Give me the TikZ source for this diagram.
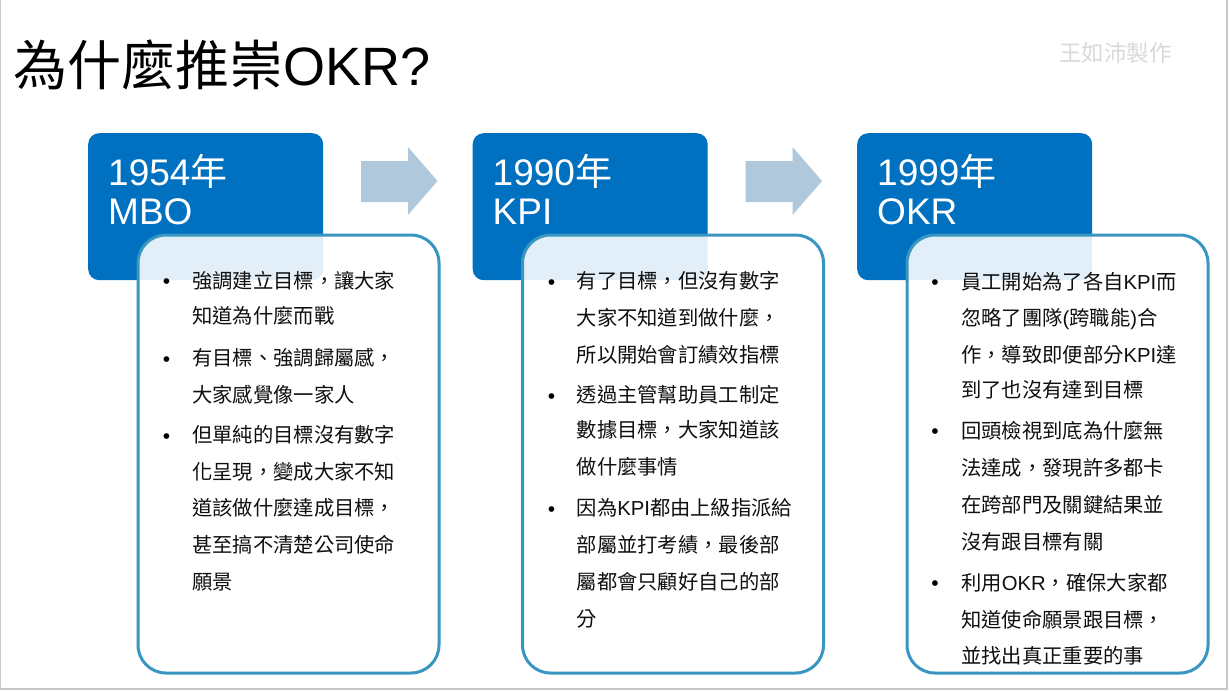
\documentclass[tikz,border=0pt]{standalone}
\usepackage{fontspec}
\setmainfont{Noto Sans CJK TC}
\newfontfamily\lat{Liberation Sans}
\definecolor{hdblue}{RGB}{0,112,192}
\definecolor{frameblue}{RGB}{57,150,192}
\definecolor{arrowblue}{RGB}{175,200,219}
\definecolor{wmgray}{RGB}{217,217,217}
\definecolor{slideline}{RGB}{200,200,200}
\definecolor{bodyc}{RGB}{15,15,15}
\begin{document}
\begin{tikzpicture}[x=1pt,y=-1pt,
  hdbox/.style={fill=hdblue, rounded corners=11pt, minimum width=235pt, minimum height=147pt, inner sep=0pt, anchor=north west},
  framebox/.style={draw=frameblue, line width=3pt, fill=white, fill opacity=0.89, rounded corners=28pt, minimum width=301pt, minimum height=438pt, inner sep=0pt, anchor=north west},
  blockarrow/.style={fill=arrowblue},
  hdtext/.style={anchor=base west, inner sep=0pt, text=white, font=\fontsize{37}{40}\selectfont},
  body/.style={anchor=west, inner sep=0pt, text height=17.86pt, text depth=2.44pt, text=bodyc, font=\fontsize{20.3}{24}\selectfont},
  bul/.style={anchor=base, inner sep=0pt, text=black, font=\lat\fontsize{21}{24}\selectfont},
]
\useasboundingbox (0,0) rectangle (1230,691);
\fill[white] (0,0) rectangle (1230,691);
\draw[slideline, line width=1.2pt] (0.6,0) -- (0.6,689) -- (1227,689) -- (1227,0);

% title and watermark
\node[anchor=base west, inner sep=0pt, font=\fontsize{54}{60}\selectfont] (title) at (13,85) {為什麼推崇{\lat OKR?}};
\node[anchor=base west, inner sep=0pt, text=wmgray, font=\fontsize{22.5}{26}\selectfont] (mark) at (1059,61.5) {王如沛製作};

% header boxes
\node[hdbox] (h1) at (88,133) {};
\node[hdbox] (h2) at (472.5,133) {};
\node[hdbox] (h3) at (857,133) {};

% block arrows
\fill[blockarrow] (361,161) -- (408,161) -- (408,147) -- (437.5,181) -- (408,215) -- (408,202) -- (361,202) -- cycle;
\fill[blockarrow] (745.5,161) -- (792.5,161) -- (792.5,147) -- (822,181) -- (792.5,215) -- (792.5,202) -- (745.5,202) -- cycle;

% header texts
\node[hdtext] (y1) at (108,185) {{\lat 1954}年};
\node[hdtext] (n1) at (108,224) {\lat MBO};
\node[hdtext] (y2) at (492.5,185) {{\lat 1990}年};
\node[hdtext] (n2) at (492.5,224) {\lat KPI};
\node[hdtext] (y3) at (877,185) {{\lat 1999}年};
\node[hdtext] (n3) at (877,224) {\lat OKR};

% content frames
\node[framebox] (f1) at (136.5,233.5) {};
\node[framebox] (f2) at (521,233.5) {};
\node[framebox] (f3) at (905.5,233.5) {};

% box 1 text
\foreach \yy/\t [count=\i] in {
  280.5/{強調建立目標，讓大家},
  316/{知道為什麼而戰},
  358/{有目標、強調歸屬感，},
  395/{大家感覺像一家人},
  435/{但單純的目標沒有數字},
  472/{化呈現，變成大家不知},
  508/{道該做什麼達成目標，},
  545/{甚至搞不清楚公司使命},
  582/{願景}}
  \node[body] (a\i) at (192,\yy) {\t};
\foreach \yy [count=\i] in {280.5,358,435}
  \node[bul] (ab\i) at (166.5,\yy+8.4) {•};

% box 2 text
\foreach \yy/\t [count=\i] in {
  281/{有了目標，但沒有數字},
  317.5/{大家不知道到做什麼，},
  354.5/{所以開始會訂績效指標},
  395/{透過主管幫助員工制定},
  430/{數據目標，大家知道該},
  466.5/{做什麼事情},
  508/{因為{\lat KPI}都由上級指派給},
  545/{部屬並打考績，最後部},
  581.5/{屬都會只顧好自己的部},
  618.5/{分}}
  \node[body] (b\i) at (576.5,\yy) {\t};
\foreach \yy [count=\i] in {281,395,508}
  \node[bul] (bb\i) at (551.5,\yy+8.4) {•};

% box 3 text
\foreach \yy/\t [count=\i] in {
  281.5/{員工開始為了各自{\lat KPI}而},
  317.5/{忽略了團隊{\lat (}跨職能{\lat )}合},
  354.5/{作，導致即便部分{\lat KPI}達},
  390/{到了也沒有達到目標},
  430.5/{回頭檢視到底為什麼無},
  468/{法達成，發現許多都卡},
  505/{在跨部門及關鍵結果並},
  541.5/{沒有跟目標有關},
  582.5/{利用{\lat OKR}，確保大家都},
  620/{知道使命願景跟目標，},
  655.5/{並找出真正重要的事}}
  \node[body] (c\i) at (961,\yy) {\t};
\foreach \yy [count=\i] in {281.5,430.5,582.5}
  \node[bul] (cb\i) at (935,\yy+8.4) {•};
\end{tikzpicture}
\end{document}
